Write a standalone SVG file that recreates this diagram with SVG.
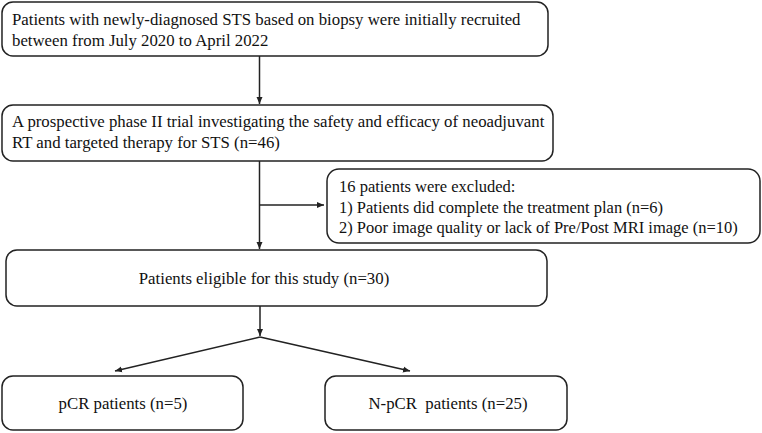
<svg xmlns="http://www.w3.org/2000/svg" width="762" height="433" viewBox="0 0 762 433">
<style>
.box{fill:#fff;stroke:#222;stroke-width:1.5}
.t{font-family:'Liberation Serif','Times New Roman',Times,serif;font-size:16.8px;fill:#111}
.s{font-size:16.5px}
.c{text-anchor:middle}
.ln{stroke:#222;stroke-width:1.5;fill:none}
</style>
<defs>
<marker id="ah" markerWidth="8" markerHeight="8" refX="7" refY="4" orient="auto" markerUnits="userSpaceOnUse">
<path d="M0,1 L7,4 L0,7 Z" fill="#222"/>
</marker>
</defs>
<rect width="762" height="433" fill="#fff"/>
<g id="connectors">
<line class="ln" x1="259.5" y1="56" x2="259.5" y2="104" marker-end="url(#ah)"/>
<line class="ln" x1="259.5" y1="161" x2="259.5" y2="249" marker-end="url(#ah)"/>
<line class="ln" x1="259.5" y1="205" x2="324" y2="205" marker-end="url(#ah)"/>
<line class="ln" x1="260" y1="306" x2="260" y2="336" marker-end="url(#ah)"/>
<line class="ln" x1="260" y1="337" x2="115" y2="371" marker-end="url(#ah)"/>
<line class="ln" x1="260" y1="337" x2="410" y2="371" marker-end="url(#ah)"/>
</g>
<g id="n1">
<rect class="box" x="2" y="2" width="546" height="54" rx="11"/>
<text class="t" x="12" y="25">Patients with newly-diagnosed STS based on biopsy were initially recruited</text>
<text class="t" x="12" y="46">between from July 2020 to April 2022</text>
</g>
<g id="n2">
<rect class="box" x="2" y="105" width="551" height="56" rx="11"/>
<text class="t" x="12" y="127">A prospective phase II trial investigating the safety and efficacy of neoadjuvant</text>
<text class="t" x="12" y="148">RT and targeted therapy for STS (n=46)</text>
</g>
<g id="n3">
<rect class="box" x="327" y="169" width="433" height="74" rx="12"/>
<text class="t s" x="339" y="192">16 patients were excluded:</text>
<text class="t s" x="339" y="212.5">1) Patients did complete the treatment plan (n=6)</text>
<text class="t s" x="339" y="233">2) Poor image quality or lack of Pre/Post MRI image (n=10)</text>
</g>
<g id="n4">
<rect class="box" x="6" y="250" width="541" height="56" rx="11"/>
<text class="t c" x="264" y="284">Patients eligible for this study (n=30)</text>
</g>
<g id="n5">
<rect class="box" x="2" y="376" width="241" height="54" rx="11"/>
<text class="t c" x="123" y="409">pCR patients (n=5)</text>
</g>
<g id="n6">
<rect class="box" x="325" y="376" width="242" height="54" rx="11"/>
<text class="t c" x="448" y="409" xml:space="preserve">N-pCR  patients (n=25)</text>
</g>
</svg>
